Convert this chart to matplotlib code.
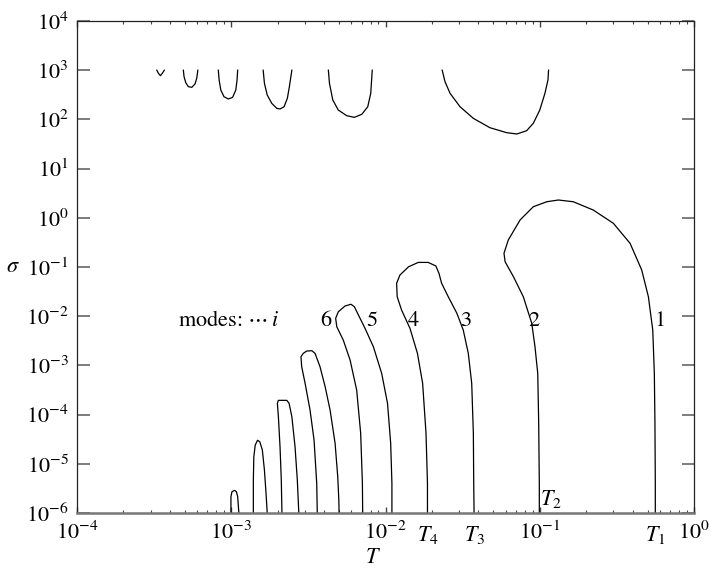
import matplotlib
matplotlib.use('Agg')
import matplotlib.pyplot as plt
from matplotlib.ticker import NullLocator, LogLocator

plt.rcParams['font.family'] = 'STIXGeneral'
plt.rcParams['mathtext.fontset'] = 'stix'

# lower neutral curves (T, sigma), right to left
loopA_T = [0.0993, 0.0993, 0.0984, 0.0970, 0.0931, 0.0887, 0.0782, 0.0675, 0.0596, 0.0586,
           0.0625, 0.0745, 0.0908, 0.111, 0.132, 0.165, 0.222, 0.300, 0.385, 0.458,
           0.506, 0.540, 0.553, 0.558, 0.561, 0.561]
loopA_s = [1e-6, 4.02e-6, 6.65e-5, 6.90e-4, 2.40e-3, 7.18e-3, 2.49e-2, 6.35e-2, 0.128, 0.190,
           0.354, 0.902, 1.68, 2.12, 2.30, 2.12, 1.44, 0.773, 0.303, 0.0869,
           0.0249, 5.25e-3, 6.90e-4, 6.65e-5, 4.02e-6, 1e-6]

loopB_T = [0.0187, 0.0187, 0.0183, 0.0174, 0.0161, 0.0144, 0.0127, 0.0119, 0.0118, 0.0124,
           0.0141, 0.0163, 0.0189, 0.0212, 0.0222, 0.0231, 0.0255, 0.0290, 0.0319, 0.0344,
           0.0362, 0.0371, 0.0373, 0.0375]
loopB_s = [1e-6, 4.02e-6, 4.17e-5, 4.33e-4, 1.76e-3, 5.68e-3, 1.34e-2, 2.49e-2, 4.67e-2, 6.87e-2,
           0.101, 0.124, 0.124, 0.105, 0.0745, 0.0467, 0.0249, 0.0115, 5.25e-3, 1.76e-3,
           4.33e-4, 4.17e-5, 4.02e-6, 1e-6]

loopC_T = [7.11e-3, 7.08e-3, 6.90e-3, 6.50e-3, 5.89e-3, 5.32e-3, 4.83e-3, 4.75e-3, 4.94e-3, 5.46e-3,
           5.97e-3, 6.28e-3, 6.67e-3, 7.36e-3, 8.34e-3, 9.44e-3, 1.03e-2, 1.08e-2, 1.10e-2, 1.10e-2]
loopC_s = [1e-6, 4.02e-6, 4.17e-5, 3.16e-4, 1.29e-3, 3.28e-3, 6.12e-3, 9.06e-3, 1.23e-2, 1.61e-2,
           1.75e-2, 1.56e-2, 1.06e-2, 5.68e-3, 2.40e-3, 6.90e-4, 1.70e-4, 2.61e-5, 4.02e-6, 1e-6]

loopD_T = [3.61e-3, 3.58e-3, 3.44e-3, 3.24e-3, 3.01e-3, 2.86e-3, 2.83e-3, 2.93e-3, 3.08e-3,
           3.33e-3, 3.49e-3, 3.76e-3, 4.06e-3, 4.37e-3, 4.71e-3, 4.90e-3, 4.98e-3, 5.00e-3]
loopD_s = [1e-6, 4.02e-6, 3.05e-5, 1.24e-4, 4.33e-4, 9.42e-4, 1.50e-3, 1.76e-3, 1.96e-3,
           1.99e-3, 1.76e-3, 9.42e-4, 3.69e-4, 1.24e-4, 2.61e-5, 5.47e-6, 1.84e-6, 1e-6]

loopE_T = [2.13e-3, 2.11e-3, 2.07e-3, 2.02e-3, 1.99e-3, 2.02e-3, 2.29e-3, 2.37e-3, 2.47e-3,
           2.59e-3, 2.68e-3, 2.74e-3]
loopE_s = [1e-6, 4.69e-6, 2.23e-5, 9.06e-5, 1.70e-4, 1.95e-4, 1.95e-4, 1.70e-4, 9.06e-5,
           2.23e-5, 4.69e-6, 1e-6]

loopF_T = [1.39e-3, 1.39e-3, 1.40e-3, 1.43e-3, 1.48e-3, 1.53e-3, 1.59e-3, 1.64e-3, 1.68e-3, 1.71e-3]
loopF_s = [1e-6, 4.69e-6, 1.39e-5, 2.41e-5, 3.01e-5, 2.81e-5, 1.91e-5, 7.48e-6, 2.51e-6, 1e-6]

loopG_T = [9.95e-4, 9.95e-4, 1.01e-3, 1.05e-3, 1.08e-3, 1.10e-3, 1.12e-3]
loopG_s = [1e-6, 2.14e-6, 2.71e-6, 2.89e-6, 2.71e-6, 2.14e-6, 1e-6]

# upper branches hanging from sigma = 1e3, left to right
up1_T = [3.29e-4, 3.37e-4, 3.47e-4, 3.57e-4, 3.68e-4]
up1_s = [1000, 865, 773, 865, 1000]
up2_T = [4.89e-4, 4.94e-4, 5.07e-4, 5.27e-4, 5.55e-4, 5.82e-4, 5.97e-4, 6.07e-4]
up2_s = [1000, 738, 557, 462, 449, 525, 684, 1000]
up3_T = [8.24e-4, 8.34e-4, 8.55e-4, 8.97e-4, 9.57e-4, 1.02e-3, 1.07e-3, 1.09e-3, 1.10e-3]
up3_s = [1000, 632, 396, 289, 260, 281, 396, 632, 1000]
up4_T = [1.61e-3, 1.64e-3, 1.71e-3, 1.83e-3, 1.97e-3, 2.07e-3, 2.20e-3, 2.31e-3, 2.38e-3, 2.47e-3]
up4_s = [1000, 542, 313, 212, 168, 163, 181, 269, 462, 1000]
up5_T = [4.26e-3, 4.33e-3, 4.55e-3, 4.94e-3, 5.60e-3, 6.28e-3, 7.02e-3, 7.67e-3, 8.02e-3, 8.20e-3]
up5_s = [1000, 542, 248, 155, 119, 110, 127, 181, 339, 1000]
up6_T = [2.33e-2, 2.43e-2, 2.62e-2, 3.04e-2, 3.71e-2, 4.75e-2, 6.11e-2, 7.10e-2, 8.22e-2,
         9.08e-2, 0.100, 0.108, 0.113, 0.114]
up6_s = [1000, 583, 339, 181, 105, 67.8, 53.7, 50.5, 58.9, 83.4, 155, 339, 632, 1000]

mode_labels = ['6', '5', '4', '3', '2', '1']
mode_label_T = [4.11e-3, 8.15e-3, 1.51e-2, 3.31e-2, 9.23e-2, 0.603]
mode_label_s = 8.0e-3

curves = [(loopA_T, loopA_s), (loopB_T, loopB_s), (loopC_T, loopC_s), (loopD_T, loopD_s),
          (loopE_T, loopE_s), (loopF_T, loopF_s), (loopG_T, loopG_s),
          (up1_T, up1_s), (up2_T, up2_s), (up3_T, up3_s), (up4_T, up4_s),
          (up5_T, up5_s), (up6_T, up6_s)]

FS = 16

fig = plt.figure(figsize=(7.1, 5.72), dpi=100)
ax = fig.add_axes([0.1085, 0.1031, 0.869, 0.8602])

for t, s in curves:
    ax.plot(t, s, color='black', lw=0.9, solid_joinstyle='round')

ax.set_xscale('log')
ax.set_yscale('log')
ax.set_xlim(1e-4, 1e0)
ax.set_ylim(1e-6, 1e4)
ax.set_xticks([1e-4, 1e-3, 1e-2, 1e-1, 1e0])
ax.set_yticks([10.0 ** k for k in range(-6, 5)])
ax.xaxis.set_minor_locator(LogLocator(base=10, subs=range(2, 10)))
ax.yaxis.set_minor_locator(NullLocator())

ax.tick_params(which='both', direction='in', top=True, right=True, labelsize=FS)
ax.tick_params(axis='y', which='major', length=9, width=1.2, color='#666666', pad=6)
ax.tick_params(axis='x', which='major', length=4, width=1.0, color='#444444', pad=6)
ax.tick_params(axis='x', which='minor', length=2.5, width=0.8, color='#444444')

for side in ['left', 'top', 'right']:
    ax.spines[side].set_linewidth(0.9)
    ax.spines[side].set_color('#222222')
ax.spines['bottom'].set_linewidth(1.8)
ax.spines['bottom'].set_color('#777777')

# mode labels
for lab, t in zip(mode_labels, mode_label_T):
    ax.text(t, mode_label_s, lab, fontsize=FS, ha='center', va='center')
ax.text(4.5e-4, mode_label_s, r'modes: $\cdots\,i$', fontsize=FS,
        ha='left', va='center')

# special temperatures from the curve end points
T1 = loopA_T[-1]
T2 = loopA_T[0]
T3 = loopB_T[-1]
T4 = loopB_T[0]
xtr = ax.get_xaxis_transform()
for t, lab in [(T4, '$T_4$'), (T3, '$T_3$'), (T1, '$T_1$')]:
    ax.text(t, -0.022, lab, transform=xtr, fontsize=FS, ha='center', va='top')
ax.text(T2 * 1.015, 1.15e-6, '$T_2$', fontsize=FS, ha='left', va='bottom')

ax.set_xlabel('$T$', fontsize=FS)
ax.xaxis.set_label_coords(0.48, -0.072)
ax.set_ylabel(r'$\sigma$', fontsize=FS, rotation=0, ha='center', va='center')
ax.yaxis.set_label_coords(-0.104, 0.5)

fig.savefig('out.png', dpi=100)
